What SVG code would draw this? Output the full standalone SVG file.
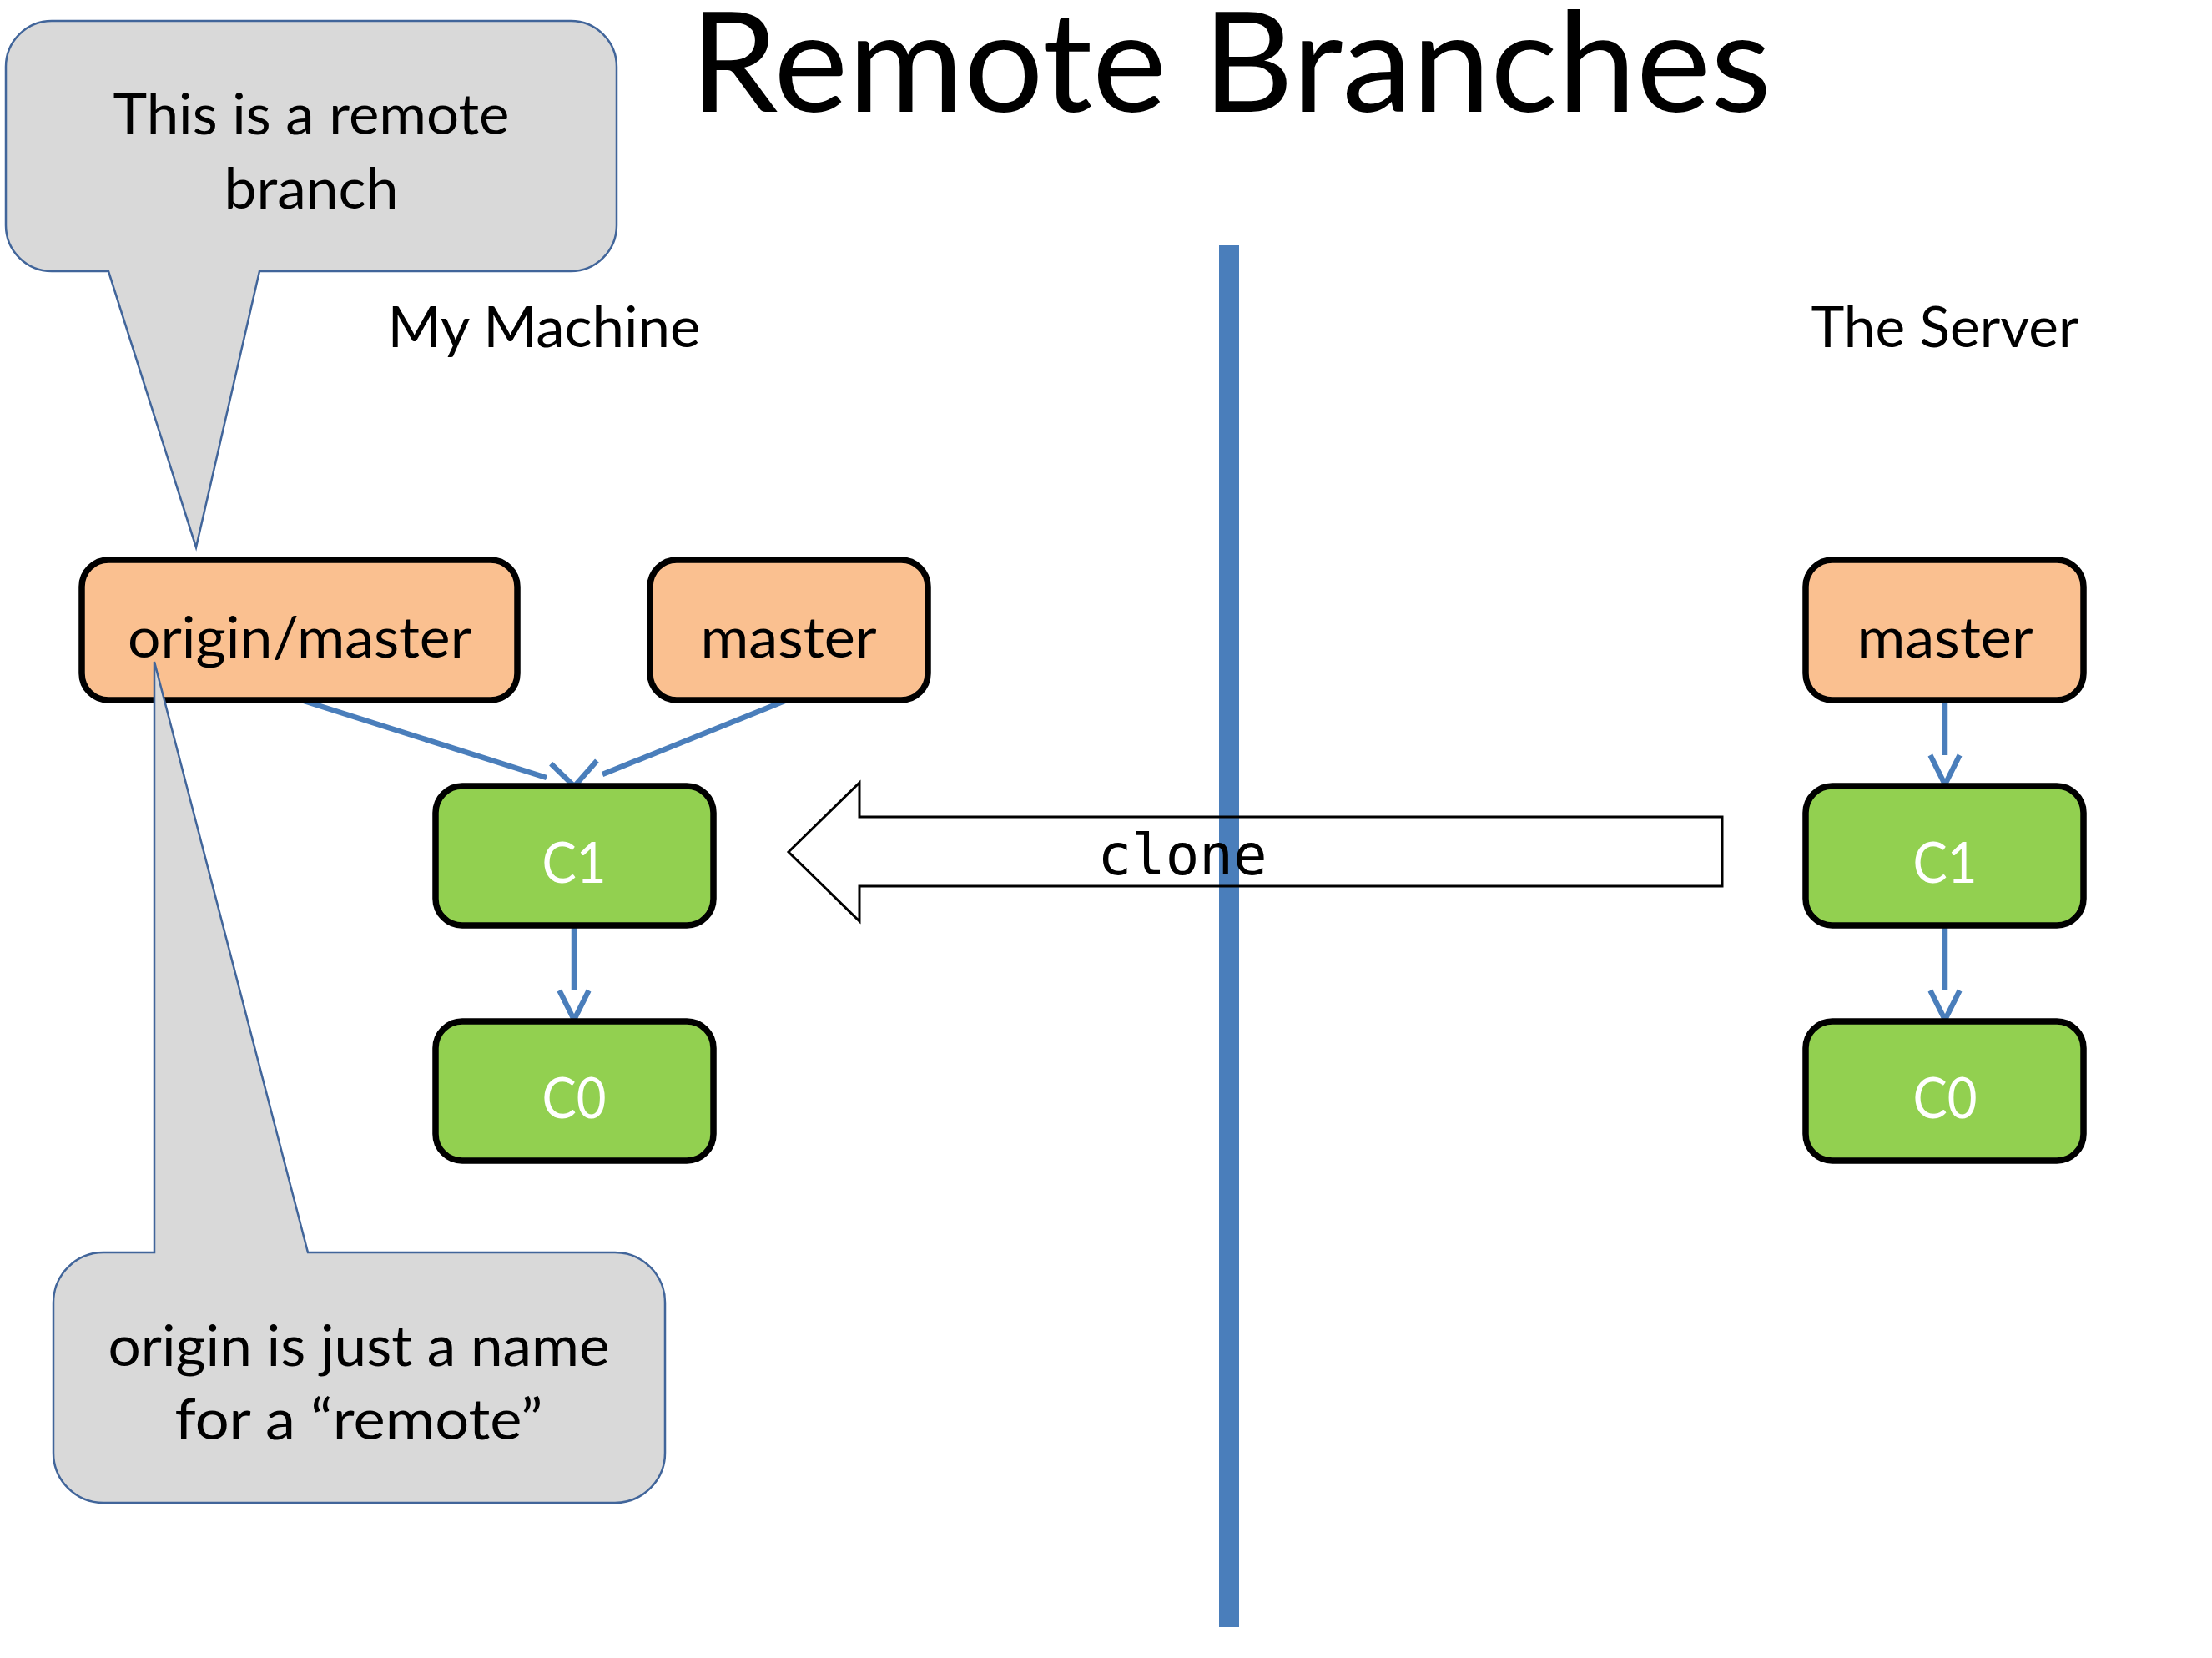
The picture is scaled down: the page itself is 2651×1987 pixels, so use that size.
<svg xmlns="http://www.w3.org/2000/svg" width="2651" height="1987" viewBox="0 0 2651 1987">
<defs>
<style>
.t{font-family:Lato,"Open Sans","Liberation Sans",sans-serif;font-size:68px;fill:#000;text-anchor:middle}
.w{fill:#fff}
.ref{fill:#FAC090;stroke:#000;stroke-width:7.5}
.cm{fill:#92D050;stroke:#000;stroke-width:7.5}
.call{fill:#D9D9D9;stroke:#41659A;stroke-width:2.5;stroke-linejoin:miter}
.con{stroke:#4A7EBB;stroke-width:6.5;fill:none;marker-end:url(#ah)}
</style>
<marker id="ah" viewBox="0 0 12 12" refX="1" refY="6" markerWidth="6.5" markerHeight="6.5" orient="auto" markerUnits="strokeWidth" overflow="visible">
<path d="M1,1 L11,6 L1,11" fill="none" stroke="#4A7EBB" stroke-width="1.8" stroke-linejoin="miter"/>
</marker>
</defs>
<rect width="2651" height="1987" fill="#fff"/>
<text class="t" x="1475" y="134" style="font-size:166px" textLength="1296" lengthAdjust="spacingAndGlyphs">Remote Branches</text>
<text class="t" x="652" y="416" textLength="375" lengthAdjust="spacingAndGlyphs">My Machine</text>
<text class="t" x="2331" y="416" textLength="321" lengthAdjust="spacingAndGlyphs">The Server</text>

<g id="callout-remote-branch">
<path class="call" d="M62,25 H684 A55,55 0 0 1 739,80 V270 A55,55 0 0 1 684,325 H311 L235,656 L130,325 H62 A55,55 0 0 1 7,270 V80 A55,55 0 0 1 62,25 Z"/>
<text class="t" x="373" y="161" textLength="475" lengthAdjust="spacingAndGlyphs">This is a remote</text>
<text class="t" x="373" y="250" textLength="209" lengthAdjust="spacingAndGlyphs">branch</text>
</g>

<rect id="divider" x="1461" y="294" width="24" height="1656" fill="#4A7EBB"/>

<g id="clone-arrow">
<path d="M945,1021 L1030,938 V979 H2064 V1062 H1030 V1104 Z" fill="none" stroke="#000" stroke-width="3"/>
<text x="1417" y="1048" style="font-family:'DejaVu Sans Mono','Liberation Mono',monospace;font-size:68px;text-anchor:middle" textLength="203" lengthAdjust="spacingAndGlyphs">clone</text>
</g>

<g id="connectors">
<line class="con" x1="361" y1="839" x2="655" y2="932"/>
<line class="con" x1="943" y1="839" x2="722" y2="928"/>
<line class="con" x1="688" y1="1111" x2="688" y2="1187"/>
<line class="con" x1="2331" y1="841" x2="2331" y2="905"/>
<line class="con" x1="2331" y1="1111" x2="2331" y2="1187"/>
</g>

<g id="origin-master">
<rect class="ref" x="98" y="671" width="522" height="168" rx="32"/>
<text class="t" x="359" y="788" textLength="412" lengthAdjust="spacingAndGlyphs">origin/master</text>
</g>
<g id="master-local">
<rect class="ref" x="779" y="671" width="333" height="168" rx="32"/>
<text class="t" x="945" y="788" textLength="211" lengthAdjust="spacingAndGlyphs">master</text>
</g>
<g id="c1-local">
<rect class="cm" x="522" y="942" width="333" height="167" rx="32"/>
<text class="t w" x="688" y="1058" textLength="77" lengthAdjust="spacingAndGlyphs">C1</text>
</g>
<g id="c0-local">
<rect class="cm" x="522" y="1224" width="333" height="167" rx="32"/>
<text class="t w" x="688" y="1340" textLength="77" lengthAdjust="spacingAndGlyphs">C0</text>
</g>
<g id="master-server">
<rect class="ref" x="2164" y="671" width="333" height="168" rx="32"/>
<text class="t" x="2331" y="788" textLength="211" lengthAdjust="spacingAndGlyphs">master</text>
</g>
<g id="c1-server">
<rect class="cm" x="2164" y="942" width="333" height="167" rx="32"/>
<text class="t w" x="2331" y="1058" textLength="77" lengthAdjust="spacingAndGlyphs">C1</text>
</g>
<g id="c0-server">
<rect class="cm" x="2164" y="1224" width="333" height="167" rx="32"/>
<text class="t w" x="2331" y="1340" textLength="77" lengthAdjust="spacingAndGlyphs">C0</text>
</g>

<g id="callout-origin">
<path class="call" d="M124,1501 H185 L185,793 L369,1501 H737 A60,60 0 0 1 797,1561 V1741 A60,60 0 0 1 737,1801 H124 A60,60 0 0 1 64,1741 V1561 A60,60 0 0 1 124,1501 Z"/>
<text class="t" x="430" y="1637" textLength="601" lengthAdjust="spacingAndGlyphs">origin is just a name</text>
<text class="t" x="430" y="1725" textLength="441" lengthAdjust="spacingAndGlyphs">for a “remote”</text>
</g>
</svg>
